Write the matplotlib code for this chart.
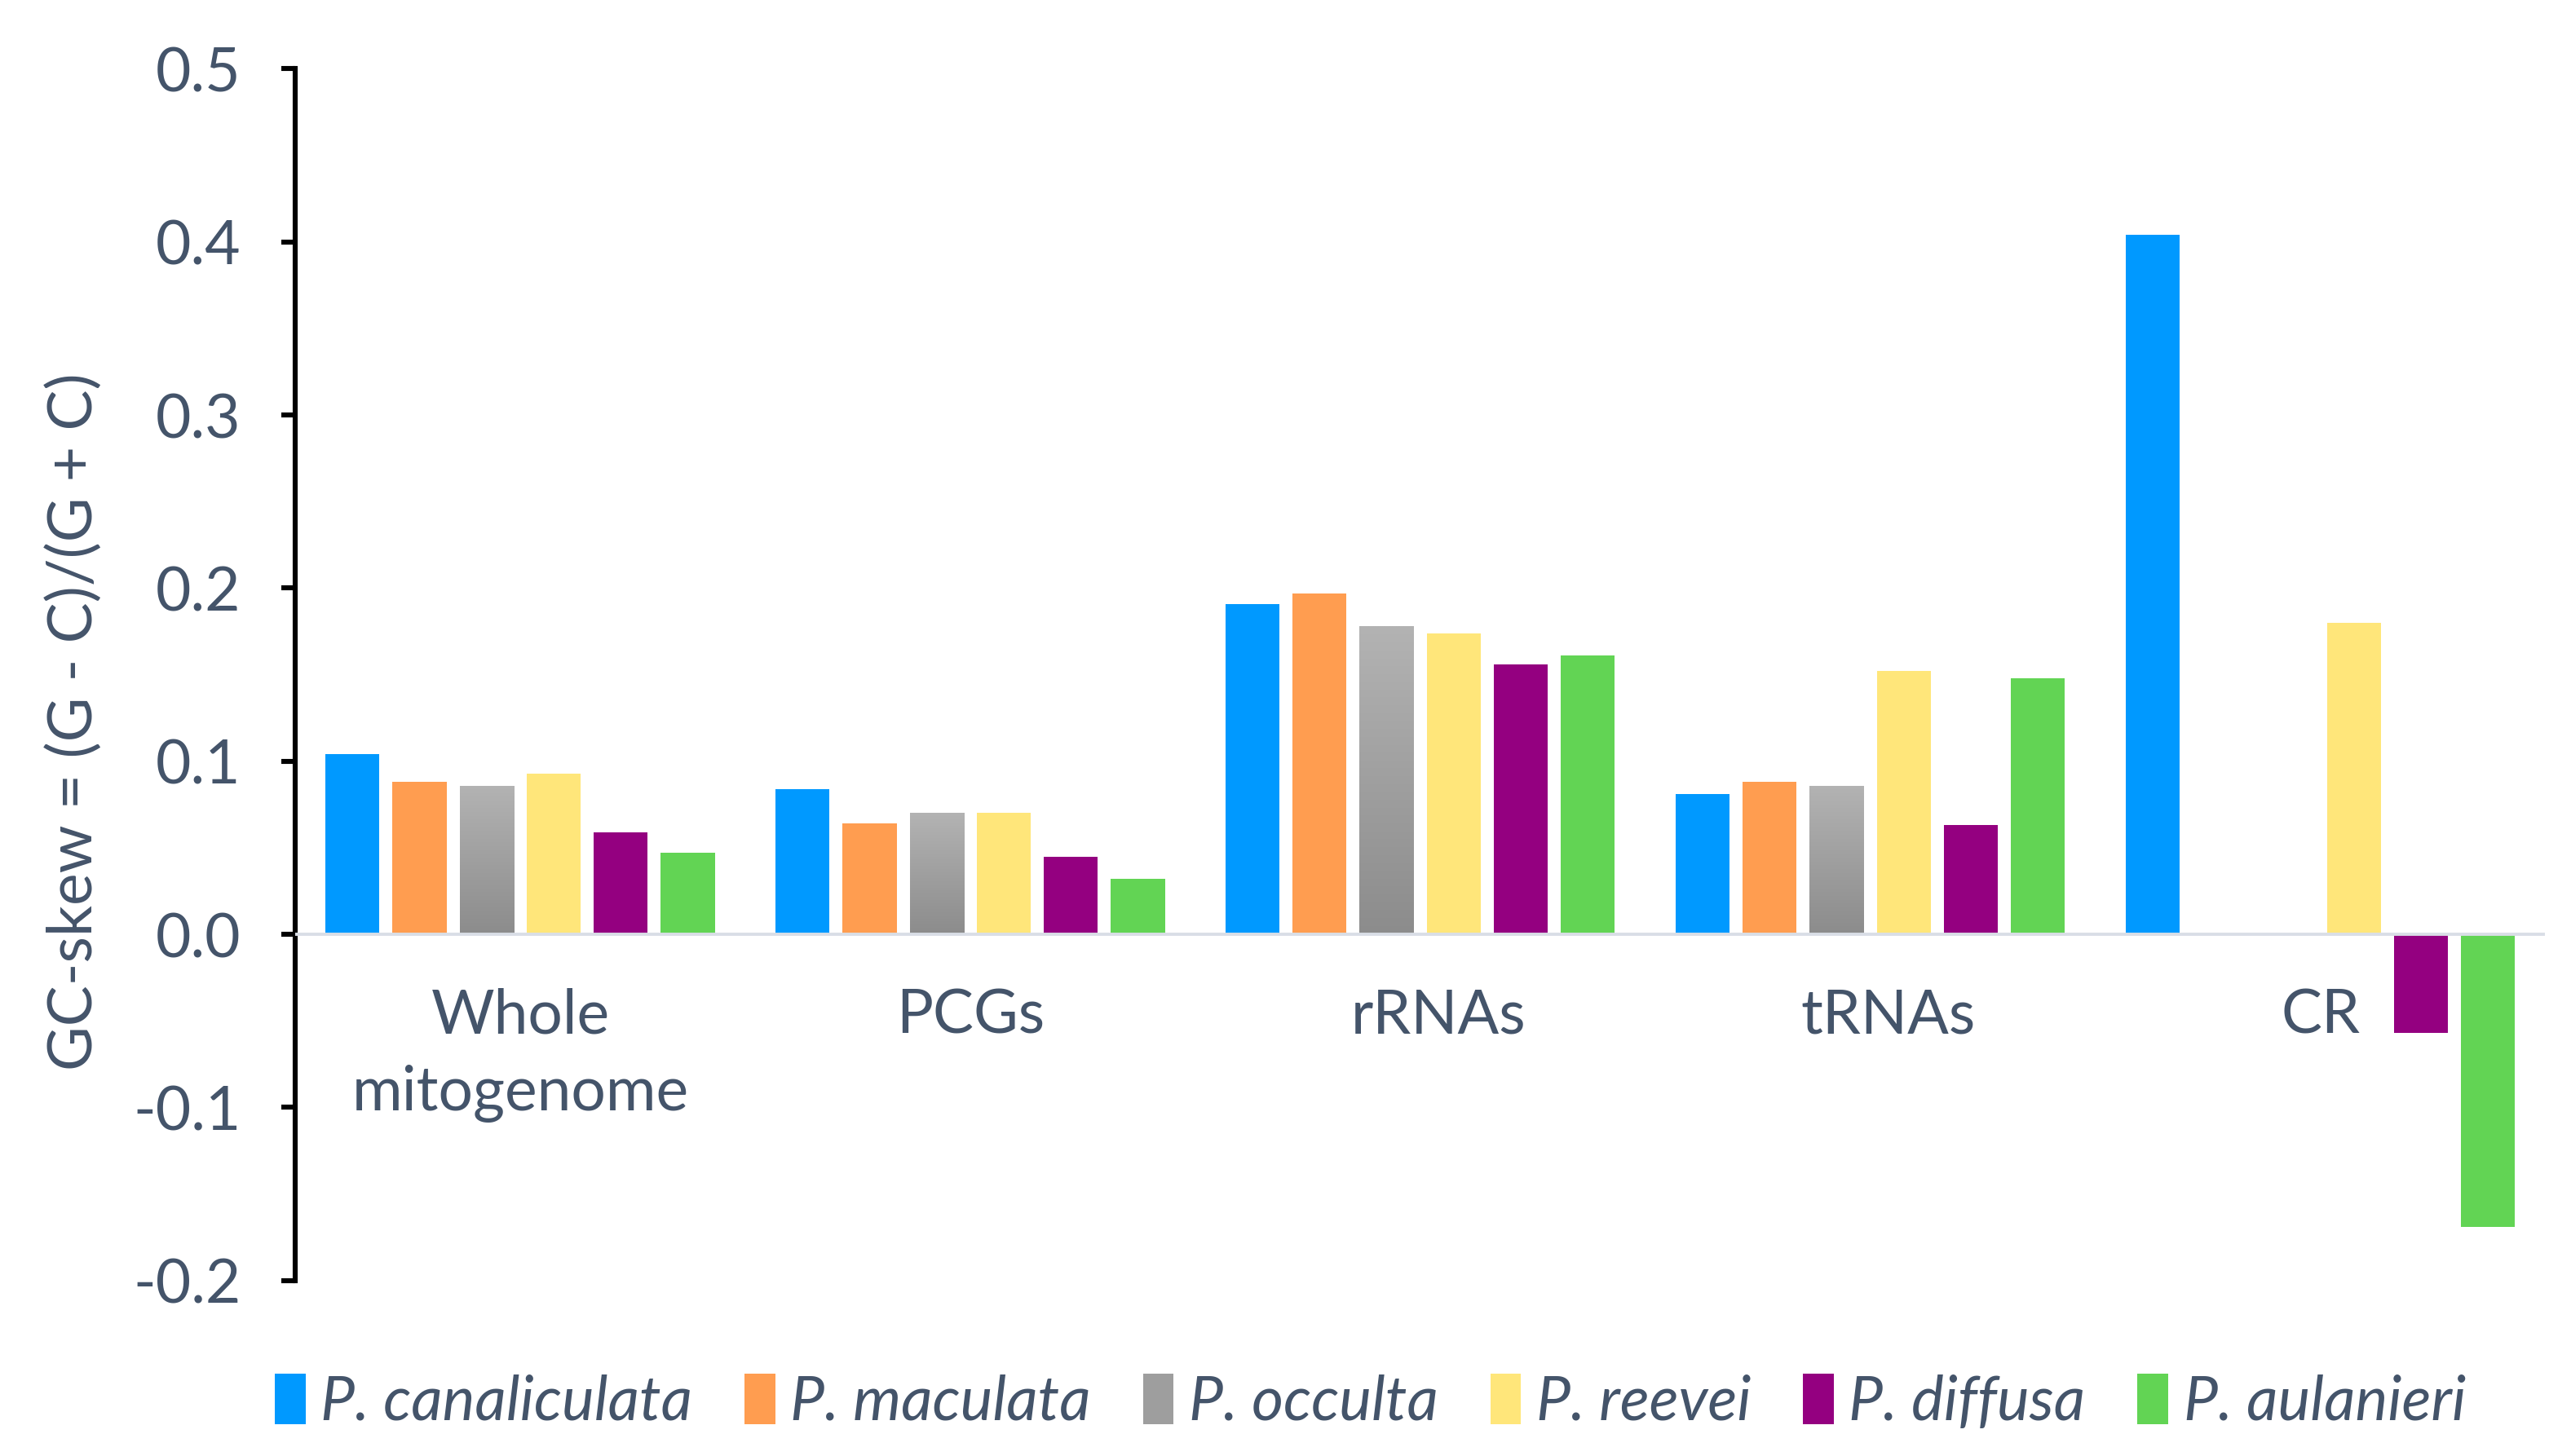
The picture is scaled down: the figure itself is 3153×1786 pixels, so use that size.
import numpy as np
import matplotlib
matplotlib.use("Agg")
import matplotlib.pyplot as plt
from matplotlib.patches import Patch

plt.rcParams['font.family'] = ['Lato', 'DejaVu Sans']

# data
categories = ['Whole\nmitogenome', 'PCGs', 'rRNAs', 'tRNAs', 'CR']
species = ['P. canaliculata', 'P. maculata', 'P. occulta', 'P. reevei', 'P. diffusa', 'P. aulanieri']
canaliculata = [0.104, 0.084, 0.191, 0.081, 0.404]
maculata = [0.088, 0.064, 0.197, 0.088, np.nan]
occulta = [0.086, 0.070, 0.178, 0.086, np.nan]
reevei = [0.093, 0.070, 0.174, 0.152, 0.180]
diffusa = [0.059, 0.045, 0.156, 0.063, -0.057]
aulanieri = [0.047, 0.032, 0.161, 0.148, -0.169]
yticks = [-0.2, -0.1, 0.0, 0.1, 0.2, 0.3, 0.4, 0.5]

series = [canaliculata, maculata, occulta, reevei, diffusa, aulanieri]
colors = ['#0099FF', '#FF9D50', '#A6A6A6', '#FFE67A', '#940080', '#62D454']
txt_color = '#44546A'
fs = 27

fig = plt.figure(figsize=(15.765, 8.93), dpi=200)
ax = fig.add_axes([0.1148, 0.1205, 0.8752, 0.8322])

x = np.arange(len(categories))
step = 0.149
width = 0.12
for i, (vals, c) in enumerate(zip(series, colors)):
    offs = (i - 2.5) * step
    bars = ax.bar(x + offs, vals, width, color=c, zorder=2)
    if i == 2:
        # gray bars have a vertical gradient
        grad = np.linspace(0, 1, 256).reshape(-1, 1)
        cmap = matplotlib.colors.LinearSegmentedColormap.from_list('g', ['#8C8C8C', '#B3B3B3'])
        for b in bars:
            h = b.get_height()
            if np.isnan(h) or h == 0:
                continue
            b.set_facecolor('none')
            x0, y0 = b.get_x(), b.get_y()
            im = ax.imshow(grad, cmap=cmap, aspect='auto', origin='lower',
                           extent=[x0, x0 + b.get_width(), y0, y0 + h], zorder=2)
            im.set_clip_path(b)

ax.set_xlim(-0.5, 4.5)
ax.set_ylim(-0.2, 0.5)
ax.axhline(0, color='#D9DEE6', lw=1.4, zorder=3)

label_dx = [0, 0, 0.04, 0.04, 0]
for xi, lab, dx in zip(x, categories, label_dx):
    ax.text(xi + dx, -0.031, lab, ha='center', va='top', fontsize=fs, color=txt_color,
            linespacing=1.45)

ax.set_xticks([])
ax.set_yticks(yticks)
ax.set_yticklabels(['%.1f' % t for t in yticks], fontsize=fs, color=txt_color)
ax.tick_params(axis='y', length=6, width=2.2, pad=18, color='black')
for s in ['top', 'right', 'bottom']:
    ax.spines[s].set_visible(False)
ax.spines['left'].set_linewidth(2.2)
ax.spines['left'].set_color('black')

fig.text(45 / 1568, 1 - 440 / 888, 'GC-skew = (G - C)/(G + C)', rotation=90,
         ha='center', va='center', fontsize=fs, color=txt_color)

handles = [Patch(facecolor=c) for c in colors]
handles[2] = Patch(facecolor='#9E9E9E')
leg = fig.legend(handles, species, loc='center', bbox_to_anchor=(0.533, 1 - 855 / 888),
                 ncol=6, frameon=False, handlelength=0.5, handleheight=0.9,
                 handletextpad=0.25, columnspacing=0.85,
                 prop={'size': fs, 'style': 'italic'})
for t in leg.get_texts():
    t.set_color(txt_color)

fig.savefig('out.png', dpi=200, facecolor='white')
